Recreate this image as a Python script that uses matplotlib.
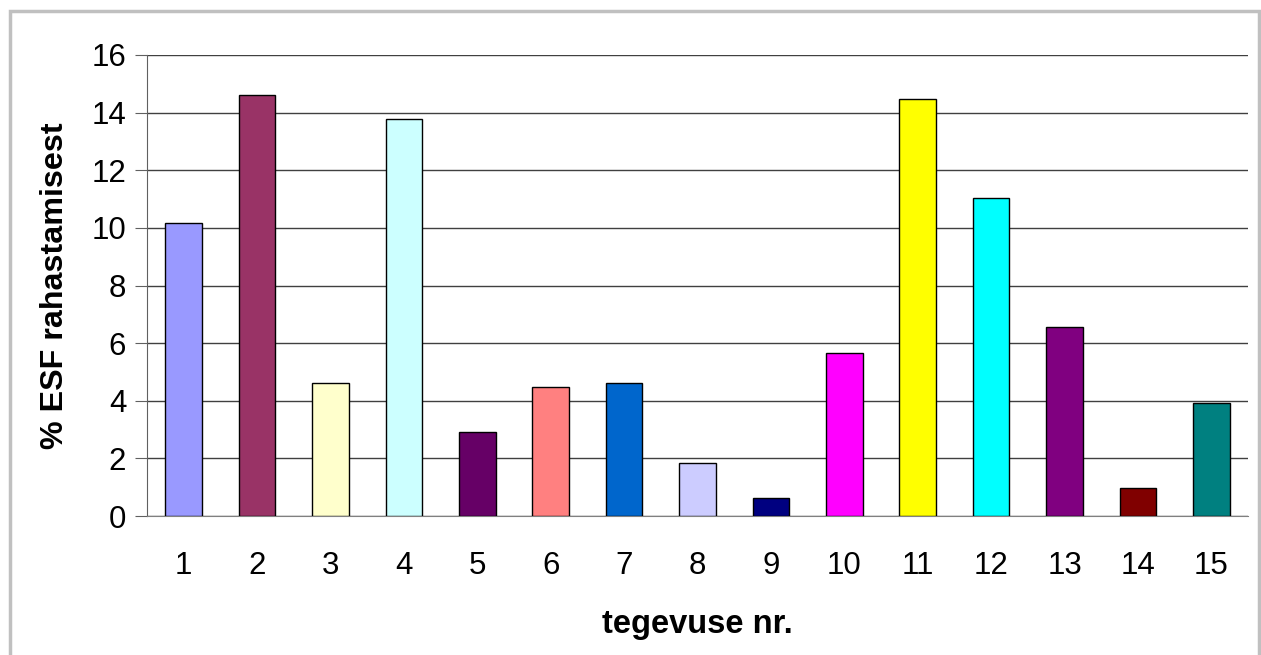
import matplotlib.pyplot as plt
from matplotlib.patches import Rectangle

plt.rcParams['font.family'] = ['Liberation Sans', 'DejaVu Sans']

tegevused = [str(i) for i in range(1, 16)]
osakaal = [10.17, 14.62, 4.62, 13.78, 2.92, 4.48, 4.62, 1.84, 0.62,
           5.66, 14.48, 11.04, 6.56, 0.97, 3.92]
varvid = ['#9999FF', '#993366', '#FFFFCC', '#CCFFFF', '#660066',
          '#FF8080', '#0066CC', '#CCCCFF', '#000080', '#FF00FF',
          '#FFFF00', '#00FFFF', '#800080', '#800000', '#008080']

fig = plt.figure(figsize=(12.61, 6.55), dpi=100)
ax = fig.add_axes([147 / 1261, 1 - 516 / 655, (1248 - 147) / 1261, (516 - 55) / 655])

# hall raam ümber joonise
fig.patches.append(Rectangle((10 / 1261, -0.01), 1249 / 1261, 1 - 11 / 655 + 0.01,
                             transform=fig.transFigure, fill=False,
                             edgecolor='#c0c0c0', linewidth=2.5))

x = range(len(tegevused))
ax.bar(x, osakaal, width=0.5, color=varvid, edgecolor='black', linewidth=1, zorder=3)

ax.set_xlim(-0.5, len(tegevused) - 0.5)
ax.set_ylim(0, 16)
ax.set_yticks(range(0, 17, 2))
ax.set_xticks(list(x))
ax.set_xticklabels(tegevused)
ax.yaxis.grid(True, color='#404040', linewidth=1, zorder=0)
ax.set_axisbelow(True)

for s in ['top', 'right']:
    ax.spines[s].set_visible(False)
ax.spines['left'].set_color('#606060')
ax.spines['bottom'].set_color('#808080')
ax.tick_params(axis='y', length=9, color='#606060', labelsize=22.5, pad=6)
ax.tick_params(axis='x', length=0, labelsize=22.5, pad=25)

ax.set_xlabel('tegevuse nr.', fontsize=23.5, fontweight='bold', labelpad=20)
ax.set_ylabel('% ESF rahastamisest', fontsize=23.2, fontweight='bold', labelpad=15)

fig.savefig('out.png', dpi=100)
